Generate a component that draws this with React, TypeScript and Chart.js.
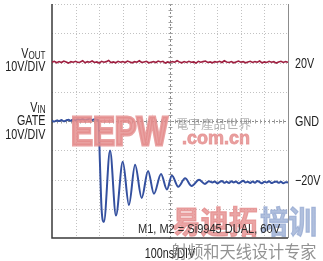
import React, { useEffect, useRef } from "react";
import { Chart, registerables } from "chart.js";

Chart.register(...registerables);

// ---- data ----
const voutTimes = [
  0, 10, 20, 30, 40, 50, 60, 70, 80, 90,
  100, 110, 120, 130, 140, 150, 160, 170, 180, 190,
  200, 210, 220, 230, 240, 250, 260, 270, 280, 290,
  300, 310, 320, 330, 340, 350, 360, 370, 380, 390,
  400, 410, 420, 430, 440, 450, 460, 470, 480, 490,
  500, 510, 520, 530, 540, 550, 560, 570, 580, 590,
  600, 610, 620, 630, 640, 650, 660, 670, 680, 690,
  700, 710, 720, 730, 740, 750, 760, 770, 780, 790,
  800, 810, 820, 830, 840, 850, 860, 870, 880, 890,
  900, 910, 920, 930, 940, 950, 960, 970, 980, 990,
  1000,
];
const voutValues = [
  20.1, 20.4, 19.9, 20.3, 20.0, 20.5, 20.2, 19.8, 20.3, 20.1,
  20.4, 20.0, 20.2, 20.6, 19.9, 20.3, 20.1, 20.5, 20.0, 20.2,
  19.8, 20.4, 20.1, 20.3, 20.7, 20.0, 20.2, 19.9, 20.4, 20.1,
  20.3, 20.0, 20.5, 20.2, 19.9, 20.3, 20.1, 20.6, 20.0, 20.2,
  20.4, 19.9, 20.1, 20.3, 20.0, 20.5, 20.2, 20.4, 19.8, 20.2,
  20.0, 20.3, 20.1, 20.6, 20.2, 19.9, 20.3, 20.0, 20.4, 20.1,
  20.2, 19.8, 20.4, 20.1, 20.3, 20.5, 20.0, 20.2, 19.9, 20.3,
  20.1, 20.4, 20.0, 20.6, 20.2, 20.0, 20.3, 19.9, 20.2, 20.5,
  20.1, 20.3, 19.9, 20.2, 20.4, 20.0, 20.3, 20.1, 20.5, 19.9,
  20.2, 20.0, 20.4, 20.1, 20.3, 19.8, 20.2, 20.4, 20.0, 20.3,
  20.1,
];

const vinTimes = [
  0, 10, 20, 30, 40, 50, 60, 70, 80, 90,
  100, 110, 120, 130, 140, 150, 160, 170, 180, 190,
  197, 203, 210, 220, 246, 271, 300, 326, 352, 380,
  407, 432, 462, 487, 508, 535, 564, 592, 623, 648,
  665,
  680, 690, 700, 710, 720, 730, 740, 750, 760, 770,
  780, 790, 800, 810, 820, 830, 840, 850, 860, 870,
  880, 890, 900, 910, 920, 930, 940, 950, 960, 970,
  980, 990, 1000,
];
const vinValues = [
  0.1, -0.2, 0.2, 0.0, 0.3, -0.1, 0.2, 0.4, 0.1, 0.5,
  0.2, 0.6, 0.3, 0.7, 0.2, 0.5, 0.8, 0.3, 0.6, 0.4,
  0.2, -14, -30, -34.5, -10.1, -32.3, -13.9, -28.7, -15.0, -26.3,
  -17.1, -24.9, -18.1, -23.4, -18.6, -22.5, -19.6, -22.2, -20.1, -21.5,
  -20.6,
  -21.0, -20.7, -21.3, -20.9, -20.5, -21.1, -20.8, -21.2, -20.6, -21.0,
  -20.7, -21.3, -20.9, -20.4, -21.0, -20.8, -21.2, -20.7, -21.1, -20.5,
  -20.9, -21.3, -20.8, -21.0, -20.6, -21.2, -20.9, -20.7, -21.1, -20.8,
  -21.3, -20.9, -21.0,
];

const xGridValues = [0, 100, 200, 300, 400, 500, 600, 700, 800, 900, 1000];
const yGridValues = [-40, -30, -20, -10, 0, 10, 20, 30, 40];
const rightLabels = ["20V", "GND", "\u221220V"];
const rightLabelValues = [20, 0, -20];
const xAxisLabel = "100ns/DIV";
const noteText = "M1, M2 = Si9945 DUAL, 60V";

const FONT = '"Liberation Sans", Arial, sans-serif';

function txt(
  ctx: CanvasRenderingContext2D,
  s: string,
  x: number,
  y: number,
  size: number,
  align: CanvasTextAlign,
  sx: number,
  color: string,
  weight = "",
  family = FONT,
  baseline: CanvasTextBaseline = "alphabetic",
  strokeW = 0
) {
  ctx.save();
  ctx.font = `${weight} ${size}px ${family}`;
  ctx.fillStyle = color;
  ctx.textAlign = align;
  ctx.textBaseline = baseline;
  ctx.translate(x, y);
  ctx.scale(sx, 1);
  if (strokeW > 0) {
    ctx.strokeStyle = color;
    ctx.lineWidth = strokeW;
    ctx.lineJoin = "miter";
    ctx.strokeText(s, 0, 0);
  }
  ctx.fillText(s, 0, 0);
  ctx.restore();
}

function measure(ctx: CanvasRenderingContext2D, s: string, size: number, sx: number) {
  ctx.save();
  ctx.font = `${size}px ${FONT}`;
  const w = ctx.measureText(s).width * sx;
  ctx.restore();
  return w;
}

const graticule = {
  id: "graticule",
  beforeDatasetsDraw(chart: any) {
    const { ctx, chartArea: a, scales } = chart;
    const x = scales.x;
    const y = scales.y;
    ctx.save();
    ctx.lineWidth = 1;
    ctx.setLineDash([1, 2]);
    ctx.strokeStyle = "#c2c2c2";
    for (const v of xGridValues) {
      if (v === 0 || v === 1000 || v === 500) continue;
      const px = Math.round(x.getPixelForValue(v)) + 0.5;
      ctx.beginPath();
      ctx.moveTo(px, a.top);
      ctx.lineTo(px, a.bottom);
      ctx.stroke();
    }
    for (const v of yGridValues) {
      if (v === -40 || v === 0) continue;
      const py = Math.round(y.getPixelForValue(v)) + 0.5;
      ctx.beginPath();
      ctx.moveTo(a.left, py);
      ctx.lineTo(a.right, py);
      ctx.stroke();
    }
    // center lines
    ctx.strokeStyle = "#8a8a8a";
    ctx.setLineDash([2, 2]);
    const cx = Math.round(x.getPixelForValue(500)) + 0.5;
    const cy = Math.round(y.getPixelForValue(0)) + 0.5;
    ctx.beginPath();
    ctx.moveTo(cx, a.top);
    ctx.lineTo(cx, a.bottom);
    ctx.moveTo(a.left, cy);
    ctx.lineTo(a.right, cy);
    ctx.stroke();
    ctx.setLineDash([]);
    ctx.strokeStyle = "#a0a0a0";
    ctx.beginPath();
    for (let t = 0; t <= 1000; t += 20) {
      const px = Math.round(x.getPixelForValue(t)) + 0.5;
      ctx.moveTo(px, cy - 2);
      ctx.lineTo(px, cy + 2);
    }
    for (let v = -40; v <= 40; v += 2) {
      const py = Math.round(y.getPixelForValue(v)) + 0.5;
      ctx.moveTo(cx - 2, py);
      ctx.lineTo(cx + 2, py);
    }
    ctx.stroke();
    // borders
    ctx.strokeStyle = "#8c8c8c";
    ctx.lineWidth = 1;
    ctx.beginPath();
    ctx.moveTo(Math.round(a.right) + 0.5, a.top);
    ctx.lineTo(Math.round(a.right) + 0.5, a.bottom);
    ctx.stroke();
    ctx.strokeStyle = "#3a3a3a";
    ctx.lineWidth = 1.5;
    ctx.beginPath();
    ctx.moveTo(a.left, a.top);
    ctx.lineTo(a.left, a.bottom);
    ctx.lineTo(a.right, a.bottom);
    ctx.stroke();
    ctx.restore();
  },
};

const labels = {
  id: "labels",
  afterDraw(chart: any) {
    const { ctx, chartArea: a, scales } = chart;
    const y = scales.y;
    const col = "#222";
    const SX = 0.77;
    const lx = a.left - 6.5;
    // VOUT block
    const y20 = y.getPixelForValue(20);
    const wOut = measure(ctx, "OUT", 10.5, SX);
    txt(ctx, "OUT", lx, y20 - 3.5, 10.5, "right", SX, col);
    txt(ctx, "V", lx - wOut, y20 - 5, 14, "right", SX, col);
    txt(ctx, "10V/DIV", lx, y20 + 8.5, 14, "right", SX, col);
    // VIN block
    const y0 = y.getPixelForValue(0);
    const wIn = measure(ctx, "IN", 10.5, SX);
    txt(ctx, "IN", lx, y0 - 8, 10.5, "right", SX, col);
    txt(ctx, "V", lx - wIn, y0 - 9.5, 14, "right", SX, col);
    txt(ctx, "GATE", lx, y0 + 4, 14, "right", SX, col);
    txt(ctx, "10V/DIV", lx, y0 + 17.5, 14, "right", SX, col);
    // right labels
    rightLabels.forEach((s, i) => {
      const py = y.getPixelForValue(rightLabelValues[i]);
      txt(ctx, s, a.right + 7, py + 5, 14, "left", SX, col);
    });
    // x axis label
    txt(ctx, xAxisLabel, (a.left + a.right) / 2, a.bottom + 20, 14, "center", SX, col);

    // watermarks
    const pink = "rgba(228,140,140,0.82)";
    txt(ctx, "EEPW", 71, 144.5, 41, "left", 0.8, pink, "bold", FONT, "alphabetic", 3);
    txt(ctx, "\u96FB\u5B50\u7522\u54C1\u4E16\u754C", 176, 124, 12.5, "left", 1, "rgba(150,150,150,0.7)", "", '"Noto Sans CJK TC"', "middle");
    txt(ctx, ".com.cn", 182, 143.5, 18, "left", 1, pink, "bold", FONT, "alphabetic", 0.8);
    txt(ctx, "\u6613\u8FEA\u62D3", 172, 221, 31, "left", 0.92, "rgba(228,140,140,0.78)", "bold", '"Noto Sans CJK SC"', "middle", 1.2);
    txt(ctx, "\u57F9\u8BAD", 260, 221, 31, "left", 0.92, "rgba(150,170,210,0.75)", "bold", '"Noto Sans CJK SC"', "middle", 1.2);
    // note
    txt(ctx, noteText, a.right - 8, a.bottom - 5, 12, "right", 0.92, "#2a2a2a");
    txt(ctx, "\u5C04\u9891\u548C\u5929\u7EBF\u8BBE\u8BA1\u4E13\u5BB6", 171, 251.5, 16.5, "left", 0.98, "rgba(120,120,120,0.8)", "", '"Noto Sans CJK SC"', "middle");
  },
};

export default function App() {
  const ref = useRef<HTMLCanvasElement | null>(null);
  useEffect(() => {
    if (!ref.current) return;
    const chart = new Chart(ref.current, {
      type: "line",
      data: {
        datasets: [
          {
            label: "VOUT",
            data: voutTimes.map((t, i) => ({ x: t, y: voutValues[i] })),
            borderColor: "#9e1f40",
            borderWidth: 1.6,
            pointRadius: 0,
            tension: 0,
          },
          {
            label: "VIN GATE",
            data: vinTimes.map((t, i) => ({ x: t, y: vinValues[i] })),
            borderColor: "#34509f",
            borderWidth: 2,
            pointRadius: 0,
            cubicInterpolationMode: "monotone",
          },
        ],
      },
      options: {
        animation: false,
        responsive: false,
        maintainAspectRatio: false,
        layout: { padding: { left: 52, right: 35, top: 4, bottom: 23 } },
        plugins: { legend: { display: false }, tooltip: { enabled: false } },
        scales: {
          x: { type: "linear", min: 0, max: 1000, display: false },
          y: { type: "linear", min: -40, max: 40, display: false },
        },
      },
      plugins: [graticule, labels],
    } as any);
    return () => chart.destroy();
  }, []);
  return (
    <div style={{ position: "absolute", left: 0, top: 0, width: 323, height: 261, background: "#fff" }}>
      <canvas ref={ref} width={323} height={261} />
    </div>
  );
}
